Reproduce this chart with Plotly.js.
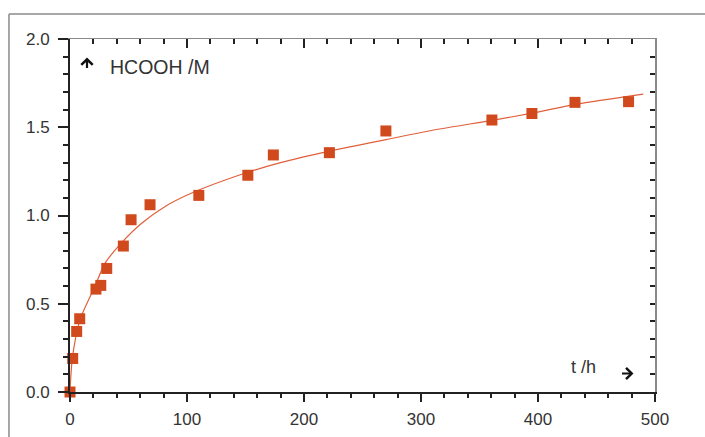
<!DOCTYPE html>
<html>
<head>
<meta charset="utf-8">
<script src="https://cdn.plot.ly/plotly-3.0.1.min.js"></script>
<style>html,body{margin:0;padding:0;background:#fff;}#chart{width:705px;height:437px;}</style>
</head>
<body>
<div id="chart"></div>
<script>
// Measured data (time in h, HCOOH in M)
const timeH = [0, 2.3, 5.7, 8.3, 22.2, 26.3, 31.4, 45.6, 52.2, 68.4, 110.1, 152, 173.8, 221.7, 270, 360.6, 394.8, 431.6, 477.4];
const hcooh = [0, 0.19, 0.343, 0.415, 0.583, 0.604, 0.700, 0.827, 0.976, 1.061, 1.114, 1.228, 1.343, 1.356, 1.479, 1.541, 1.578, 1.641, 1.645];

// Fitted curve
const fitT = [0, 2, 8.6, 21.4, 30, 44, 61, 81, 105, 152, 180, 222, 270, 316, 360, 395, 432, 490];
const fitV = [0, 0.19, 0.41, 0.60, 0.73, 0.845, 0.955, 1.05, 1.13, 1.245, 1.30, 1.365, 1.43, 1.49, 1.538, 1.58, 1.63, 1.688];

const xTicks = [0, 100, 200, 300, 400, 500];
const yTicks = [0, 0.5, 1.0, 1.5, 2.0];

const markerColor = '#d04a1e';
const lineColor = '#e0603c';
const fontFam = 'Liberation Sans, Arial, sans-serif';

const traces = [
  {x: fitT, y: fitV, mode: 'lines', line: {color: lineColor, width: 1.2, shape: 'spline', smoothing: 0.8}, hoverinfo: 'skip', cliponaxis: false},
  {x: timeH, y: hcooh, mode: 'markers', marker: {symbol: 'square', size: 11, color: markerColor}, cliponaxis: false},
  {x: [], y: [], xaxis: 'x2', yaxis: 'y2', mode: 'markers', hoverinfo: 'skip'}
];

const px = v => (v - 70) / 585;
const py = v => (392 - v) / 353;

const layout = {
  width: 705, height: 437,
  margin: {l: 70, r: 50, t: 39, b: 45},
  paper_bgcolor: '#fff', plot_bgcolor: '#fff',
  showlegend: false,
  font: {family: fontFam, size: 17, color: '#333'},
  xaxis: {
    range: [0, 500], tickvals: xTicks, ticktext: xTicks.map(String),
    showgrid: false, zeroline: false, showline: true, linecolor: '#222', linewidth: 2,
    ticks: 'outside', ticklen: 8, tickwidth: 2, tickcolor: '#222',
    minor: {dtick: 20, tick0: 0, ticks: 'outside', ticklen: 4, tickwidth: 2, tickcolor: '#222', showgrid: false},
    tickfont: {family: fontFam, size: 17, color: '#333'}, ticklabelstandoff: 3
  },
  yaxis: {
    range: [0, 2], tickvals: yTicks, ticktext: yTicks.map(v => v.toFixed(1)),
    showgrid: false, zeroline: false, showline: true, linecolor: '#222', linewidth: 2,
    ticks: 'outside', ticklen: 10, tickwidth: 2, tickcolor: '#222',
    minor: {dtick: 0.1, tick0: 0, ticks: 'outside', ticklen: 5, tickwidth: 2, tickcolor: '#222', showgrid: false},
    tickfont: {family: fontFam, size: 17, color: '#333'}, ticklabelstandoff: 5
  },
  xaxis2: {
    overlaying: 'x', side: 'top', range: [0, 500], showgrid: false, zeroline: false,
    showline: true, linecolor: '#8a8a8a', linewidth: 1.5,
    ticks: 'inside', tickvals: xTicks, ticklen: 9, tickwidth: 2, tickcolor: '#222', showticklabels: false,
    minor: {dtick: 20, tick0: 0, ticks: 'inside', ticklen: 5, tickwidth: 2, tickcolor: '#222', showgrid: false}
  },
  yaxis2: {
    overlaying: 'y', side: 'right', range: [0, 2], showgrid: false, zeroline: false,
    showline: true, linecolor: '#8a8a8a', linewidth: 1.5,
    ticks: 'inside', dtick: 0.1, tick0: 0, ticklen: 5, tickwidth: 2, tickcolor: '#222', showticklabels: false
  },
  shapes: [
    {type: 'line', xref: 'paper', yref: 'paper', x0: -0.1043, x1: 1.09, y0: 1.0708, y1: 1.0708, line: {color: '#8a8a8a', width: 1.5}},
    {type: 'line', xref: 'paper', yref: 'paper', x0: -0.1043, x1: -0.1043, y0: 1.0708, y1: -0.14, line: {color: '#8a8a8a', width: 1.5}}
  ],
  annotations: [
    {xref: 'paper', yref: 'paper', x: px(87), y: py(57.5), ax: 0, ay: 12, text: '', showarrow: true, arrowhead: 4, arrowsize: 1, arrowwidth: 2.2, arrowcolor: '#111'},
    {xref: 'paper', yref: 'paper', x: px(108), y: py(67), xanchor: 'left', yanchor: 'middle', text: 'HCOOH /M', showarrow: false, font: {family: fontFam, size: 19.5, color: '#333'}},
    {xref: 'paper', yref: 'paper', x: px(583), y: py(367), xanchor: 'center', yanchor: 'middle', text: 't /h', showarrow: false, font: {family: fontFam, size: 18, color: '#333'}},
    {xref: 'paper', yref: 'paper', x: px(633.5), y: py(373.5), ax: -13, ay: 0, text: '', showarrow: true, arrowhead: 4, arrowsize: 1, arrowwidth: 2.2, arrowcolor: '#111'}
  ]
};

Plotly.newPlot('chart', traces, layout, {displayModeBar: false, staticPlot: true});
</script>
</body>
</html>
